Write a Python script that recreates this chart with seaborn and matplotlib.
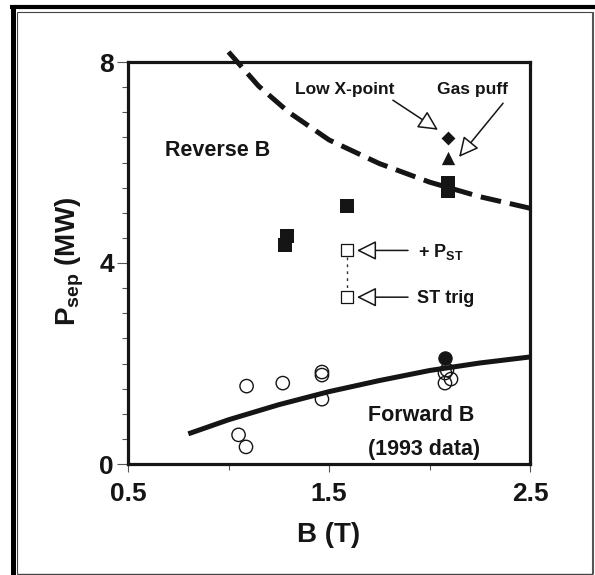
import matplotlib
matplotlib.use("Agg")
import matplotlib.pyplot as plt
import pandas as pd
import seaborn as sns
from matplotlib.lines import Line2D
from matplotlib.patches import ArrowStyle
from matplotlib.ticker import FixedLocator, MultipleLocator

# ---- data -------------------------------------------------------------
# Reverse-B H-mode thresholds (filled squares)
rev_B = [1.28, 1.29, 1.59, 2.09, 2.09]
rev_P = [4.36, 4.54, 5.13, 5.43, 5.60]
# special reverse-B shots
lowx_B, lowx_P = [2.09], [6.49]          # low X-point (diamond)
gas_B, gas_P = [2.09], [6.09]            # gas puff (triangle)
st_B = [1.59, 1.59]                      # sawtooth: + P_ST / ST trig
st_P = [4.25, 3.32]
# Forward-B thresholds, 1993 data (open circles)
fwd_B = [1.09, 1.27, 1.465, 1.465, 1.465, 1.05, 1.087, 2.077, 2.077, 2.107, 2.087]
fwd_P = [1.55, 1.61, 1.83, 1.77, 1.29, 0.58, 0.34, 1.81, 1.61, 1.69, 1.87]
fwd_hi_B, fwd_hi_P = [2.077], [2.11]     # filled circle
# trend curves
fit_fwd_B = [0.80, 1.00, 1.25, 1.50, 1.75, 2.00, 2.25, 2.50]
fit_fwd_P = [0.60, 0.88, 1.18, 1.44, 1.66, 1.86, 2.01, 2.13]
fit_rev_B = [2.50, 2.25, 2.00, 1.75, 1.50, 1.30, 1.15, 1.00]
fit_rev_P = [5.09, 5.32, 5.61, 5.98, 6.45, 7.00, 7.52, 8.20]

x_ticks = [0.5, 1.5, 2.5]
y_ticks = [0, 4, 8]

# ---- style -------------------------------------------------------------
sns.set_style("ticks")
FONT = "Liberation Sans"
plt.rcParams["font.family"] = [FONT, "DejaVu Sans"]
plt.rcParams["font.weight"] = "bold"
plt.rcParams["mathtext.fontset"] = "custom"
plt.rcParams["mathtext.rm"] = f"{FONT}:bold"
plt.rcParams["mathtext.it"] = f"{FONT}:bold"
plt.rcParams["mathtext.bf"] = f"{FONT}:bold"
INK = "#151515"

W, H = 595, 575
fig = plt.figure(figsize=(W / 100, H / 100), dpi=100)
fig.patch.set_facecolor("white")
ax = fig.add_axes([128 / W, 1 - 464 / H, (530 - 128) / W, (464 - 62) / H])

# ---- curves -------------------------------------------------------------
sns.lineplot(x=fit_fwd_B, y=fit_fwd_P, ax=ax, color=INK, lw=3.6,
             sort=False, estimator=None, solid_capstyle="butt", zorder=4)
sns.lineplot(x=fit_rev_B, y=fit_rev_P, ax=ax, color=INK, lw=3.6,
             sort=False, estimator=None, linestyle=(0, (4.15, 1.8)), zorder=4)
ax.lines[-1].set_clip_on(False)
ax.lines[-1].set_dash_capstyle("butt")

# dotted link between the sawtooth points
ax.plot(st_B, st_P, color="#333", lw=1.0, linestyle=(0, (2, 3)), zorder=2)

# ---- markers -------------------------------------------------------------
sns.scatterplot(x=fwd_B, y=fwd_P, ax=ax, marker="o", s=92,
                facecolor="none", edgecolor=INK, linewidth=1.0, zorder=3)
sns.scatterplot(x=fwd_hi_B, y=fwd_hi_P, ax=ax, marker="o", s=92,
                color=INK, edgecolor=INK, linewidth=0.8, zorder=5)
sns.scatterplot(x=rev_B, y=rev_P, ax=ax, marker="s", s=115,
                color=INK, edgecolor=INK, linewidth=0, zorder=5)
sns.scatterplot(x=lowx_B, y=lowx_P, ax=ax, marker="D", s=50,
                color=INK, edgecolor=INK, linewidth=0, zorder=5)
sns.scatterplot(x=gas_B, y=gas_P, ax=ax, marker="^", s=92,
                color=INK, edgecolor=INK, linewidth=0, zorder=5)
sns.scatterplot(x=st_B, y=st_P, ax=ax, marker="s", s=70,
                facecolor="white", edgecolor=INK, linewidth=0.9, zorder=5)

# ---- axes ----------------------------------------------------------------
ax.set_xlim(0.5, 2.5)
ax.set_ylim(0, 8)
ax.xaxis.set_major_locator(FixedLocator(x_ticks))
ax.xaxis.set_minor_locator(MultipleLocator(0.5))
ax.yaxis.set_major_locator(FixedLocator(y_ticks))
ax.yaxis.set_minor_locator(MultipleLocator(0.5))

for s in ax.spines.values():
    s.set_visible(True)
    s.set_linewidth(2.3)
    s.set_color(INK)

ax.tick_params(axis="x", which="major", length=6, width=0.8, color="#555",
               pad=7, labelsize=19, labelcolor=INK)
ax.tick_params(axis="x", which="minor", length=4.5, width=0.8, color="#555")
ax.tick_params(axis="y", which="major", length=8, width=0.8, color="#555",
               pad=2, labelsize=19, labelcolor=INK)
ax.tick_params(axis="y", which="minor", length=4, width=0.8, color="#555")
for lab in ax.get_xticklabels() + ax.get_yticklabels():
    lab.set_fontweight("bold")

ax.set_xlabel("B (T)", fontsize=20, fontweight="bold", color=INK, va="center")
ax.xaxis.set_label_coords(0.5, (464 - 535) / 402)
ax.set_ylabel(r"P$_{\mathrm{sep}}$ (MW)", fontsize=20, fontweight="bold",
              color=INK, va="center")
ax.yaxis.set_label_coords((70 - 128) / 402, (464 - 261) / 402)

# ---- labels and pointers ---------------------------------------------------
txt = dict(color=INK, fontweight="bold")
ax.text(0.948, 6.13, "Reverse B", ha="center", va="baseline", fontsize=15.5, **txt)
ax.text(1.96, 0.856, "Forward B", ha="center", va="baseline", fontsize=15.5, **txt)
ax.text(1.975, 0.18, "(1993 data)", ha="center", va="baseline", fontsize=15.5, **txt)
ax.text(1.58, 7.36, "Low X-point", ha="center", va="baseline", fontsize=12.5, **txt)
ax.text(2.216, 7.36, "Gas puff", ha="center", va="baseline", fontsize=12.5, **txt)
ax.text(1.943, 4.12, r"+ P$_{\mathrm{ST}}$", ha="left", va="baseline", fontsize=13, **txt)
ax.text(1.938, 3.20, "ST trig", ha="left", va="baseline", fontsize=13, **txt)

head = ArrowStyle("-|>", head_length=0.6, head_width=0.3)
arrow = dict(arrowstyle=head, mutation_scale=20, fc="white", ec=INK,
             lw=1.1, shrinkA=0, shrinkB=0)
ax.annotate("", xy=(1.639, 4.25), xytext=(1.893, 4.25), arrowprops=arrow)
ax.annotate("", xy=(1.639, 3.32), xytext=(1.893, 3.32), arrowprops=arrow)
ax.annotate("", xy=(2.042, 6.65), xytext=(1.818, 7.24), arrowprops=arrow)
ax.annotate("", xy=(2.147, 6.11), xytext=(2.366, 7.18), arrowprops=arrow)

# ---- page frame -------------------------------------------------------------
def fx(x):
    return x / W


def fy(y):
    return 1 - y / H


frame = [
    ([10, 595], [7, 7], 3.0, "black"),          # heavy top rule
    ([12.5, 12.5], [5, 575], 3.6, "black"),     # heavy left rule
    ([17, 592.5], [12, 12], 0.8, "#444"),       # inner box
    ([17, 17], [12, 574], 0.8, "#444"),
    ([17, 593], [574, 574], 1.0, "#444"),
    ([593, 593], [12, 574], 1.5, "#555"),
]
for xs, ys, lw, c in frame:
    fig.add_artist(Line2D([fx(v) for v in xs], [fy(v) for v in ys],
                          transform=fig.transFigure, lw=lw, color=c,
                          solid_capstyle="butt"))

fig.savefig("out.png", dpi=100, facecolor="white")
